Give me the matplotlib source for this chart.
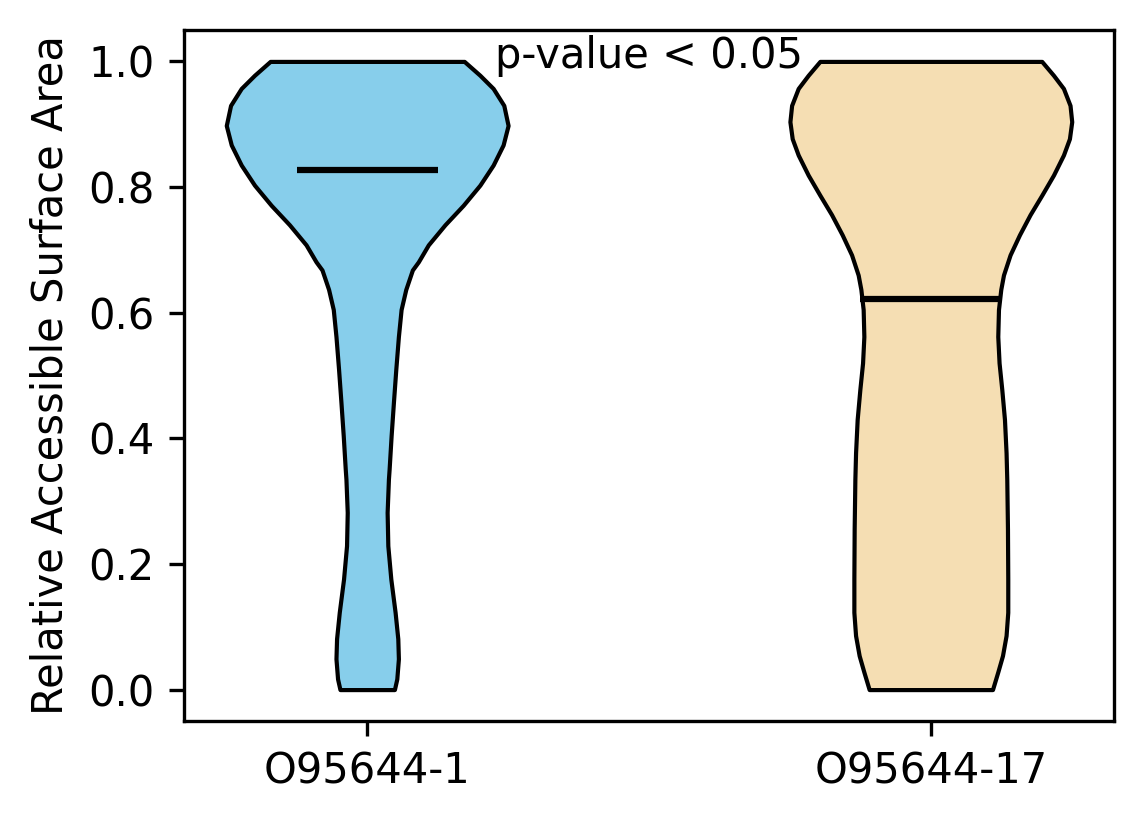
import matplotlib
matplotlib.use("Agg")
import matplotlib.pyplot as plt

# groups and colours
labels = ["O95644-1", "O95644-17"]
colors = ["skyblue", "wheat"]

# violin outlines: y coordinate and relative half width
coords_1 = [0.0, 0.017, 0.049, 0.081, 0.123, 0.176, 0.229, 0.282, 0.335,
            0.351, 0.404, 0.457, 0.510, 0.562, 0.605, 0.637, 0.668,
            0.681, 0.708, 0.740, 0.771, 0.803, 0.835, 0.867, 0.898,
            0.930, 0.957, 0.978, 1.0]
vals_1 = [27.3, 29.7, 31.3, 30.7, 28, 23.7, 20.7, 20, 21.3,
          22, 24, 26.3, 28.7, 31.3, 34, 38.7, 45.3,
          51.3, 61.3, 78, 96.3, 113, 126.3, 136.3, 141.3,
          137, 126.3, 113, 97.3]

coords_2 = [0.0, 0.028, 0.054, 0.086, 0.123, 0.176, 0.256, 0.335, 0.377,
            0.430, 0.478, 0.520, 0.562, 0.605, 0.637, 0.660, 0.692,
            0.724, 0.756, 0.787, 0.819, 0.851, 0.877, 0.904, 0.930,
            0.957, 0.978, 1.0]
vals_2 = [61.7, 67, 71.7, 75.3, 77, 77, 76.7, 76, 75.3,
          73.7, 71, 68.3, 67, 67.7, 70, 72.7, 79.3,
          88.7, 99.3, 111, 122.7, 132.7, 138.7, 141, 139.3,
          132.7, 122.7, 111]

means = [0.827, 0.621]
pvalue_text = "p-value < 0.05"

stats = []
for c, v, m in zip([coords_1, coords_2], [vals_1, vals_2], means):
    stats.append({"coords": c, "vals": v, "mean": m, "median": m,
                  "min": min(c), "max": max(c)})

fig = plt.figure(figsize=(1144 / 300, 824 / 300), dpi=300)
ax = fig.add_axes([184 / 1144, 1 - 721 / 824, (1114 - 184) / 1144, (721 - 30) / 824])

parts = ax.violin(stats, positions=[1, 2], widths=0.5,
                  showmeans=True, showextrema=False, showmedians=False)
for body, col in zip(parts["bodies"], colors):
    body.set_facecolor(col)
    body.set_edgecolor("black")
    body.set_alpha(1)
    body.set_joinstyle("round")
parts["cmeans"].set_color("black")
parts["cmeans"].set_linewidth(1.5)

ax.set_xticks([1, 2])
ax.set_xticklabels(labels)
ax.set_ylabel("Relative Accessible Surface Area")
ax.text(1.5, 0.99, pvalue_text, ha="center", va="baseline")

fig.savefig("out.png", dpi=300)
